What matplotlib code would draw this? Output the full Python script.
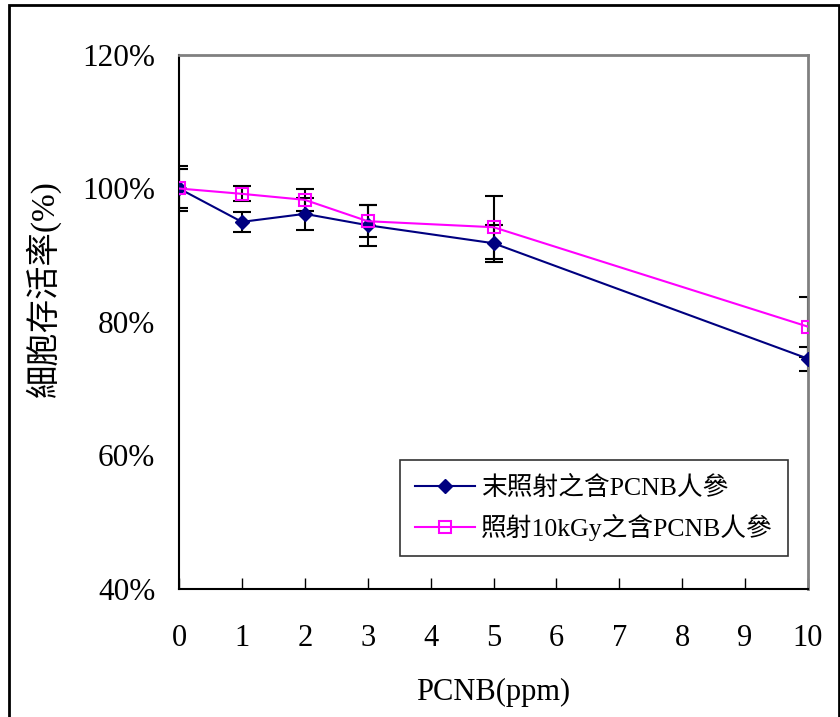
import matplotlib
matplotlib.use("Agg")
import matplotlib.pyplot as plt
from matplotlib.ticker import PercentFormatter, MultipleLocator
from matplotlib.patches import Rectangle

plt.rcParams['font.family'] = ['Liberation Serif', 'Noto Sans CJK TC']

# PCNB dose (ppm) and cell survival (%)
dose = [0, 1, 2, 3, 5, 10]
raw = [100, 95.0, 96.2, 94.5, 91.8, 74.5]
raw_err = [3.4, 1.5, 2.4, 3.1, 2.8, 1.8]
irr = [100, 99.2, 98.3, 95.1, 94.2, 79.3]
irr_err = [2.9, 1.1, 1.6, 2.4, 4.7, 4.5]
labels = ['末照射之含PCNB人參', '照射10kGy之含PCNB人參']

W, H = 840, 717
fig = plt.figure(figsize=(W / 100, H / 100), dpi=100)
ax = fig.add_axes([179 / W, 1 - 589 / H, (808 - 179) / W, (589 - 55) / H])

# outer frame
fig.patches.append(Rectangle((9 / W, -0.01), (839 - 9) / W, 1.01 - 5 / H,
                             transform=fig.transFigure, fill=False,
                             edgecolor='black', linewidth=2, clip_on=False))

ebar = dict(fmt='none', ecolor='black', elinewidth=1.5, capsize=6.5, capthick=1.5, zorder=2)
ax.errorbar(dose, raw, yerr=raw_err, **ebar)
ax.errorbar(dose, irr, yerr=irr_err, **ebar)

ax.plot(dose, raw, color='#000080', lw=1.5, marker='D', ms=7.5,
        mfc='#000080', mec='#000080', label=labels[0], zorder=3)
ax.plot(dose, irr, color='#FF00FF', lw=1.5, marker='s', ms=9,
        mfc='none', mec='#FF00FF', mew=1.5, label=labels[1], zorder=4)

ax.set_xlim(0, 10)
ax.set_ylim(40, 120)
ax.xaxis.set_major_locator(MultipleLocator(1))
ax.yaxis.set_major_locator(MultipleLocator(20))
ax.yaxis.set_major_formatter(PercentFormatter(decimals=0))
ax.tick_params(axis='x', direction='in', length=8, width=1, pad=25, labelsize=22)
ax.tick_params(axis='y', length=0, pad=17, labelsize=22.5)

for side in ['left', 'bottom']:
    ax.spines[side].set_color('black')
    ax.spines[side].set_linewidth(1.5)
for side in ['top', 'right']:
    ax.spines[side].set_color('#808080')
    ax.spines[side].set_linewidth(2)

ax.set_xlabel('PCNB(ppm)', fontsize=22, labelpad=18)
ax.set_ylabel('細胞存活率(%)', fontsize=24)
ax.yaxis.set_label_coords(-0.188, 0.562)

leg = ax.legend(loc='upper left', bbox_to_anchor=(400 / W, 1 - 460 / H),
                bbox_transform=fig.transFigure, borderaxespad=0,
                fontsize=18.5, frameon=True, fancybox=False, shadow=False,
                handlelength=2.3, handletextpad=0.25, labelspacing=0.55,
                borderpad=0.6)
leg.get_frame().set_edgecolor('black')
leg.get_frame().set_linewidth(1.2)

fig.savefig('out.png', dpi=100)
